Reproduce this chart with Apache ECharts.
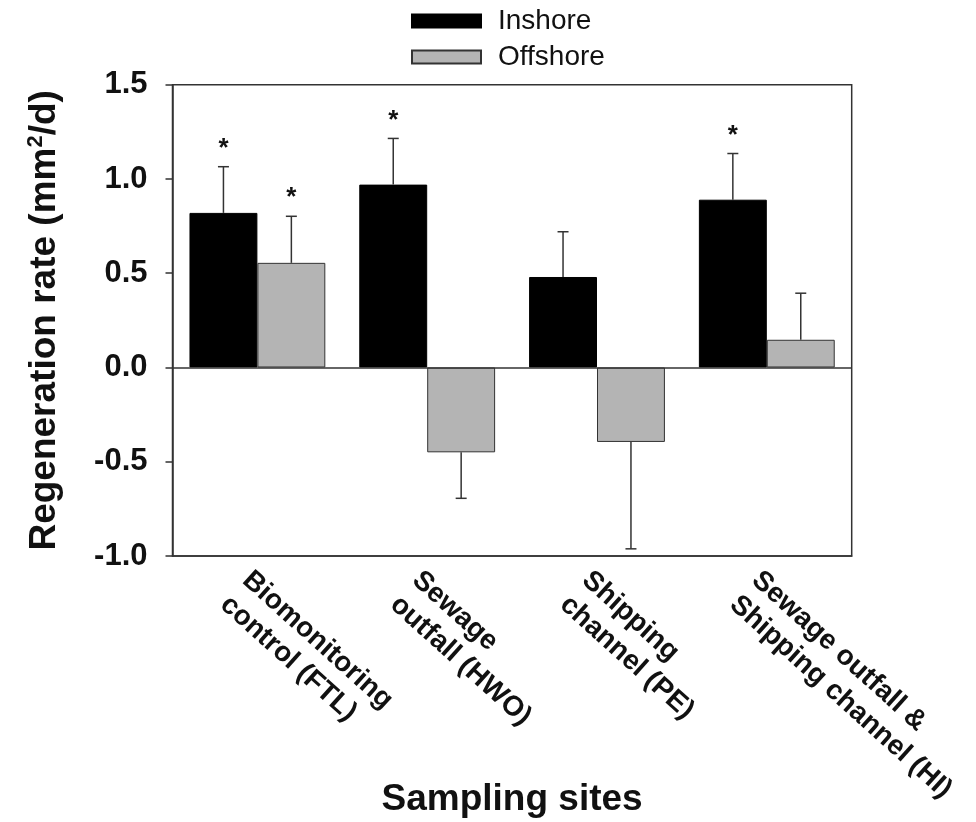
<!DOCTYPE html>
<html>
<head>
<meta charset="utf-8">
<script src="https://cdn.jsdelivr.net/npm/echarts@6/dist/echarts.min.js"></script>
<style>
  html, body { margin: 0; padding: 0; background: #fff; }
  #chart { width: 976px; height: 822px; }
</style>
</head>
<body>
<div id="chart"></div>
<script>
// sampling sites
const categories = [
  'Biomonitoring\ncontrol (FTL)',
  'Sewage\noutfall (HWO)',
  'Shipping\nchannel (PE)',
  'Sewage outfall &\nShipping channel (HI)'
];
// mean regeneration rate (mm2/d)
const inshore = [0.82, 0.97, 0.48, 0.89];
const offshore = [0.555, -0.45, -0.395, 0.147];
// error bar lengths
const inshoreErr = [0.245, 0.245, 0.24, 0.245];
const offshoreErr = [0.247, 0.244, 0.567, 0.247];
// significance markers (*)
const inshoreSig = [1, 1, 0, 1];
const offshoreSig = [1, 0, 0, 0];
// y ticks
const yMin = -1.0, yMax = 1.5, yStep = 0.5;

const FONT = '"Liberation Sans", Arial, sans-serif';
const LINE = '#333';

let chart = echarts.init(document.getElementById('chart'));

// error bars: [category index, value, error, significant, group]
let errData = [];
categories.forEach((c, i) => {
    errData.push([i, inshore[i], inshoreErr[i], inshoreSig[i], 0]);
    errData.push([i, offshore[i], offshoreErr[i], offshoreSig[i], 1]);
});

function renderErr(params, api) {
    let idx = api.value(0), v = api.value(1), e = api.value(2);
    let sig = api.value(3), grp = api.value(4);
    let band = api.size([1, 0])[0];
    let cx = api.coord([idx, 0])[0] + (grp === 0 ? -0.2 : 0.2) * band;
    let end = v >= 0 ? v + e : v - e;
    let y0 = api.coord([idx, v])[1];
    let y1 = api.coord([idx, end])[1];
    let st = {stroke: LINE, lineWidth: 1.5};
    let kids = [
        {type: 'line', shape: {x1: cx, y1: y0, x2: cx, y2: y1}, style: st},
        {type: 'line', shape: {x1: cx - 5.5, y1: y1, x2: cx + 5.5, y2: y1}, style: st}
    ];
    if (sig) {
        kids.push({
            type: 'text',
            style: {
                text: '*', x: cx, y: y1 - 18,
                align: 'center', verticalAlign: 'middle',
                font: 'bold 26px ' + FONT, fill: '#111'
            }
        });
    }
    return {type: 'group', children: kids};
}

let option = {
    animation: false,
    backgroundColor: '#fff',
    legend: {
        data: ['Inshore', 'Offshore'],
        orient: 'vertical',
        left: 411,
        top: 6,
        padding: 0,
        icon: 'rect',
        itemWidth: 69,
        itemHeight: 13,
        itemGap: 6,
        selectedMode: false,
        textStyle: {
            fontFamily: FONT, fontSize: 28, lineHeight: 30, color: '#111',
            padding: [0, 0, 0, 12]
        }
    },
    grid: {
        left: 172.5,
        right: 124.3,
        top: 84.7,
        bottom: 266,
        outerBoundsMode: 'none',
        containLabel: false,
        show: true,
        borderColor: LINE,
        borderWidth: 1.5
    },
    xAxis: {
        type: 'category',
        data: categories,
        name: 'Sampling sites',
        nameLocation: 'middle',
        nameGap: 225,
        nameMoveOverlap: false,
        nameTextStyle: {fontFamily: FONT, fontSize: 37, fontWeight: 'bold', color: '#111'},
        axisLine: {onZero: false, lineStyle: {color: LINE, width: 1.5}},
        axisTick: {alignWithLabel: true, length: 6, lineStyle: {color: LINE, width: 1.5}},
        axisLabel: {
            interval: 0,
            rotate: -42,
            align: 'left',
            verticalAlign: 'top',
            margin: 8,
            fontFamily: FONT,
            fontSize: 28,
            fontWeight: 'bold',
            lineHeight: 33,
            color: '#111'
        }
    },
    yAxis: {
        type: 'value',
        min: yMin,
        max: yMax,
        interval: yStep,
        name: '{t|Regeneration rate (mm}{s|2}{t|/d)}',
        nameLocation: 'middle',
        nameRotate: 90,
        nameGap: 108,
        nameMoveOverlap: false,
        nameTextStyle: {
            rich: {
                t: {fontFamily: FONT, fontSize: 37, fontWeight: 'bold', color: '#111', lineHeight: 40},
                s: {fontFamily: FONT, fontSize: 22, fontWeight: 'bold', color: '#111', verticalAlign: 'top', lineHeight: 22}
            }
        },
        splitLine: {show: false},
        axisLine: {show: true, lineStyle: {color: LINE, width: 1.5}},
        axisTick: {show: true, length: 7, lineStyle: {color: LINE, width: 1.5}},
        axisLabel: {
            margin: 25,
            fontFamily: FONT,
            fontSize: 31,
            fontWeight: 'bold',
            color: '#111',
            formatter: v => v.toFixed(1)
        }
    },
    series: [
        {
            name: 'Inshore',
            type: 'bar',
            data: inshore,
            barGap: '0%',
            barCategoryGap: '20%',
            itemStyle: {color: '#000', borderColor: '#000', borderWidth: 1},
            markLine: {
                silent: true,
                symbol: ['none', 'none'],
                label: {show: false},
                lineStyle: {color: LINE, type: 'solid', width: 1.5},
                data: [{yAxis: 0}]
            }
        },
        {
            name: 'Offshore',
            type: 'bar',
            data: offshore,
            barGap: '0%',
            barCategoryGap: '20%',
            itemStyle: {color: '#b4b4b4', borderColor: '#333', borderWidth: 1}
        },
        {
            type: 'custom',
            renderItem: renderErr,
            data: errData,
            encode: {x: 0, y: 1},
            z: 5,
            silent: true
        }
    ]
};

chart.setOption(option);
</script>
</body>
</html>
